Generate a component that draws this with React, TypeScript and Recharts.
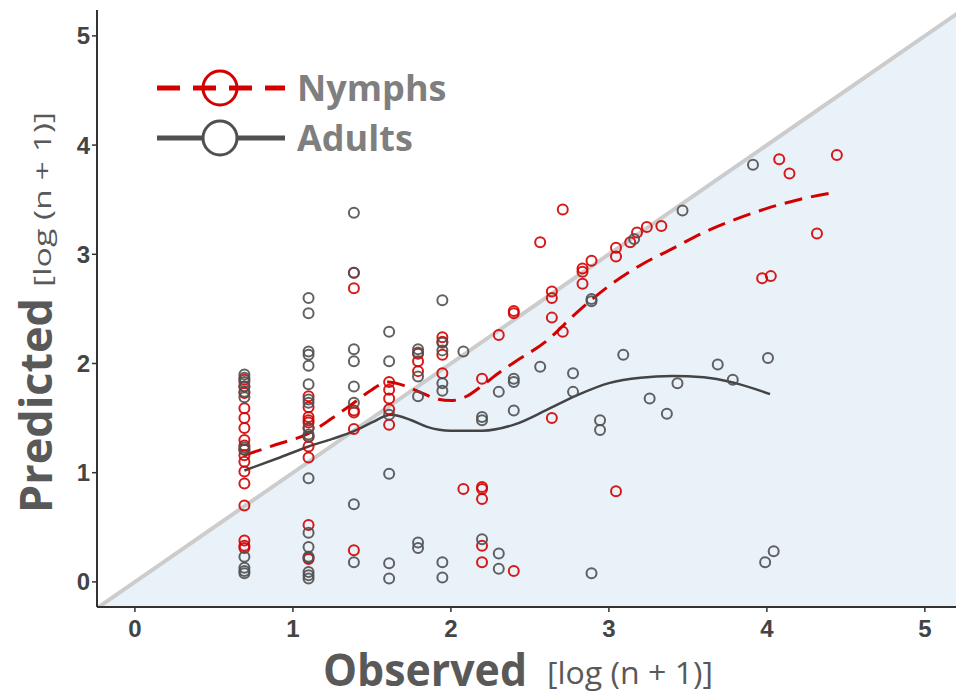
import React from "react";
import { ComposedChart, XAxis, YAxis, Scatter, Line, Area, Label } from "recharts";

// observed vs predicted, both log(n + 1)
const nymphPoints: [number, number][] = [
  [0.693, 1.85], [0.693, 1.79], [0.693, 1.73], [0.693, 1.59], [0.693, 1.5], [0.693, 1.41],
  [0.693, 1.3], [0.693, 1.25], [0.693, 1.21], [0.693, 1.16], [0.693, 1.1], [0.693, 1.01],
  [0.693, 0.9], [0.693, 0.7], [0.693, 0.38], [0.693, 0.33], [0.693, 0.31],
  [1.099, 1.7], [1.099, 1.6], [1.099, 1.51], [1.099, 1.48], [1.099, 1.46], [1.099, 1.41],
  [1.099, 1.33], [1.099, 1.24], [1.099, 1.14], [1.099, 0.52], [1.099, 0.21],
  [1.386, 2.83], [1.386, 2.69], [1.386, 1.57], [1.386, 1.55], [1.386, 1.4], [1.386, 0.29],
  [1.609, 1.83], [1.609, 1.76], [1.609, 1.68], [1.609, 1.58], [1.609, 1.44],
  [1.792, 2.09], [1.792, 2.02], [1.792, 1.93],
  [1.946, 2.24], [1.946, 2.2], [1.946, 2.08], [1.946, 1.91],
  [2.079, 0.85],
  [2.197, 1.86], [2.197, 0.87], [2.197, 0.85], [2.197, 0.76], [2.197, 0.33], [2.197, 0.18],
  [2.303, 2.26],
  [2.398, 2.48], [2.398, 2.46], [2.398, 0.1],
  [2.565, 3.11],
  [2.639, 2.66], [2.639, 2.6], [2.639, 2.42], [2.639, 1.5],
  [2.708, 3.41], [2.708, 2.29],
  [2.833, 2.87], [2.833, 2.84], [2.833, 2.73],
  [2.89, 2.94],
  [3.045, 3.06], [3.045, 2.98], [3.045, 0.83],
  [3.135, 3.11], [3.178, 3.2], [3.24, 3.25], [3.332, 3.26],
  [3.97, 2.78], [4.025, 2.8], [4.078, 3.87], [4.143, 3.74], [4.317, 3.19], [4.443, 3.91],
];

const adultPoints: [number, number][] = [
  [0.693, 1.9], [0.693, 1.87], [0.693, 1.83], [0.693, 1.79], [0.693, 1.74], [0.693, 1.69],
  [0.693, 1.23], [0.693, 1.21], [0.693, 0.23], [0.693, 0.13], [0.693, 0.1], [0.693, 0.08],
  [1.099, 2.6], [1.099, 2.46], [1.099, 2.11], [1.099, 2.08], [1.099, 1.98], [1.099, 1.81],
  [1.099, 1.67], [1.099, 1.64], [1.099, 1.41], [1.099, 1.35], [1.099, 1.33], [1.099, 0.95],
  [1.099, 0.45], [1.099, 0.32], [1.099, 0.23], [1.099, 0.22], [1.099, 0.09], [1.099, 0.06],
  [1.099, 0.03],
  [1.386, 3.38], [1.386, 2.83], [1.386, 2.13], [1.386, 2.02], [1.386, 1.79], [1.386, 1.64],
  [1.386, 0.71], [1.386, 0.18],
  [1.609, 2.29], [1.609, 2.02], [1.609, 1.53], [1.609, 0.99], [1.609, 0.17], [1.609, 0.03],
  [1.792, 2.13], [1.792, 2.1], [1.792, 1.88], [1.792, 1.7], [1.792, 0.36], [1.792, 0.31],
  [1.946, 2.58], [1.946, 2.19], [1.946, 2.12], [1.946, 1.82], [1.946, 1.75], [1.946, 0.18],
  [1.946, 0.04],
  [2.079, 2.11],
  [2.197, 1.51], [2.197, 1.48], [2.197, 0.39],
  [2.303, 1.74], [2.303, 0.26], [2.303, 0.12],
  [2.398, 1.86], [2.398, 1.83], [2.398, 1.57],
  [2.565, 1.97],
  [2.773, 1.91], [2.773, 1.74],
  [2.89, 2.59], [2.89, 2.57], [2.89, 0.08],
  [2.944, 1.48], [2.944, 1.39],
  [3.091, 2.08], [3.16, 3.14], [3.258, 1.68], [3.367, 1.54], [3.434, 1.82], [3.466, 3.4],
  [3.689, 1.99], [3.784, 1.85], [3.912, 3.82], [3.989, 0.18], [4.007, 2.05], [4.043, 0.28],
];

// smoothed fits
const nymphFit: [number, number][] = [
  [0.693, 1.16], [0.9, 1.26], [1.099, 1.36], [1.25, 1.5], [1.386, 1.64], [1.5, 1.76],
  [1.6, 1.83], [1.7, 1.8], [1.8, 1.74], [1.9, 1.68], [2.0, 1.66], [2.1, 1.7], [2.2, 1.8],
  [2.3, 1.91], [2.4, 2.01], [2.6, 2.2], [2.8, 2.47], [3.0, 2.71], [3.2, 2.9], [3.4, 3.05],
  [3.6, 3.2], [3.8, 3.32], [4.0, 3.42], [4.2, 3.5], [4.44, 3.57],
];

const adultFit: [number, number][] = [
  [0.693, 1.02], [0.9, 1.13], [1.099, 1.24], [1.25, 1.31], [1.386, 1.38], [1.5, 1.46],
  [1.62, 1.53], [1.75, 1.48], [1.85, 1.42], [2.0, 1.385], [2.2, 1.385], [2.4, 1.44],
  [2.6, 1.57], [2.8, 1.71], [3.0, 1.82], [3.2, 1.87], [3.4, 1.885], [3.6, 1.875],
  [3.8, 1.82], [4.02, 1.72],
];

const oneToOne: [number, number][] = [[-0.3, -0.3], [5.3, 5.3]];
const ticks = [0, 1, 2, 3, 4, 5];

const RED = "#d40000";
const GREY = "#505050";
const TITLE_FONT = "'Open Sans', sans-serif";

const toRows = (pts: [number, number][]) => pts.map(([x, y]) => ({ x, y }));

const ring = (color: string) => (props: any) => (
  <circle cx={props.cx} cy={props.cy} r={5} fill="none" stroke={color} strokeWidth={2} strokeOpacity={0.9} />
);

const tickStyle = { fontSize: 24, fontWeight: 700, fill: "#444", fontFamily: "'Liberation Sans', Arial, sans-serif" };

const YTitle = () => (
  <g fill="#595959" fontFamily={TITLE_FONT}>
    <text x={52} y={513} transform="rotate(-90, 52, 513)" fontSize={45} fontWeight={700} textLength={215} lengthAdjust="spacingAndGlyphs">
      Predicted
    </text>
    <text x={51} y={287} transform="rotate(-90, 51, 287)" fontSize={24} textLength={175} lengthAdjust="spacingAndGlyphs">
      [log (n + 1)]
    </text>
  </g>
);

const XTitle = () => (
  <g fill="#595959" fontFamily={TITLE_FONT}>
    <text x={323} y={686} fontSize={45} fontWeight={700} textLength={204} lengthAdjust="spacingAndGlyphs">
      Observed
    </text>
    <text x={547} y={684} fontSize={31} textLength={166} lengthAdjust="spacingAndGlyphs">
      [log (n + 1)]
    </text>
  </g>
);

const LegendBox = () => (
  <svg width={320} height={110} style={{ position: "absolute", left: 150, top: 60 }}>
    <line x1={7} y1={28} x2={135} y2={28} stroke={RED} strokeWidth={5} strokeDasharray="23 13" />
    <circle cx={70} cy={28} r={17} fill="none" stroke={RED} strokeWidth={3} />
    <text x={147} y={28} dy="0.36em" fontSize={36} fontWeight={700} fill="#7f7f7f" fontFamily={TITLE_FONT}>Nymphs</text>
    <line x1={7} y1={78} x2={135} y2={78} stroke={GREY} strokeWidth={5} />
    <circle cx={70} cy={78} r={17} fill="#fff" stroke={GREY} strokeWidth={3} />
    <text x={147} y={78} dy="0.36em" fontSize={36} fontWeight={700} fill="#7f7f7f" fontFamily={TITLE_FONT}>Adults</text>
  </svg>
);

export default function App() {
  return (
    <div style={{ position: "absolute", left: 0, top: 0, width: 956, height: 694, background: "#fff" }}>
      <ComposedChart width={956} height={694} margin={{ top: 10, right: 0, bottom: 0, left: 0 }}>
        <XAxis
          type="number"
          dataKey="x"
          domain={[-0.24, 5.197]}
          allowDataOverflow
          ticks={ticks}
          height={87}
          tick={tickStyle}
          tickSize={5}
          tickMargin={8}
          axisLine={{ stroke: "#333", strokeWidth: 2 }}
          tickLine={{ stroke: "#333", strokeWidth: 1.5 }}
          label={<Label content={<XTitle />} />}
        />
        <YAxis
          type="number"
          dataKey="y"
          domain={[-0.23, 5.237]}
          allowDataOverflow
          ticks={ticks}
          width={97}
          tick={tickStyle}
          tickSize={5}
          tickMargin={2}
          axisLine={{ stroke: "#333", strokeWidth: 2 }}
          tickLine={{ stroke: "#333", strokeWidth: 1.5 }}
          label={<Label content={<YTitle />} />}
        />
        <Area
          data={toRows(oneToOne)}
          dataKey="y"
          type="linear"
          baseValue={-0.3}
          fill="#e9f1f9"
          fillOpacity={1}
          stroke="#cccccc"
          strokeWidth={4}
          isAnimationActive={false}
        />
        <Scatter data={toRows(nymphPoints)} shape={ring(RED)} isAnimationActive={false} />
        <Scatter data={toRows(adultPoints)} shape={ring(GREY)} isAnimationActive={false} />
        <Line data={toRows(nymphFit)} dataKey="y" type="monotone" stroke={RED} strokeWidth={3} strokeDasharray="18 9" dot={false} isAnimationActive={false} />
        <Line data={toRows(adultFit)} dataKey="y" type="monotone" stroke="#444" strokeWidth={2.5} dot={false} isAnimationActive={false} />
      </ComposedChart>
      <LegendBox />
    </div>
  );
}
